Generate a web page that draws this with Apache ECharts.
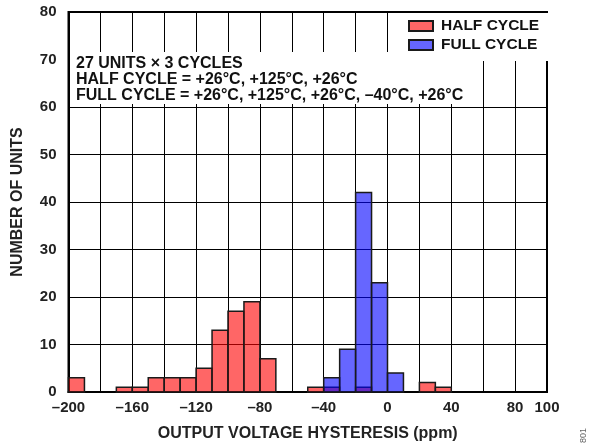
<!DOCTYPE html>
<html>
<head>
<meta charset="utf-8">
<script src="https://cdn.jsdelivr.net/npm/echarts@6/dist/echarts.min.js"></script>
<style>
html,body{margin:0;padding:0;background:#fff;}
#chart{width:596px;height:447px;}
</style>
</head>
<body>
<div id="chart"></div>
<script>
// Histogram bins (ppm): start and end of each bin
var binStart = [-200,-190,-180,-170,-160,-150,-140,-130,-120,-110,-100,-90,-80,-70,-60,-50,-40,-30,-20,-10,0,10,20,30,40,50,60,70,80,90];
var binEnd   = [-190,-180,-170,-160,-150,-140,-130,-120,-110,-100,-90,-80,-70,-60,-50,-40,-30,-20,-10,0,10,20,30,40,50,60,70,80,90,100];
var halfCycle = [3,0,0,1,1,3,3,3,5,13,17,19,7,0,0,1,1,0,1,0,0,0,2,1,0,0,0,0,0,0];
var fullCycle = [0,0,0,0,0,0,0,0,0,0,0,0,0,0,0,0,3,9,42,23,4,0,0,0,0,0,0,0,0,0];
var xTickLabels = [-200,-160,-120,-80,-40,0,40,80,100];
var noteLines = [
  '27 UNITS \u00d7 3 CYCLES',
  'HALF CYCLE = +26\u00b0C, +125\u00b0C, +26\u00b0C',
  'FULL CYCLE = +26\u00b0C, +125\u00b0C, +26\u00b0C, \u201340\u00b0C, +26\u00b0C'
];
var seriesNames = ['HALF CYCLE','FULL CYCLE'];

var FONT = 'Liberation Sans, Arial, sans-serif';
function toData(counts){
  var d = [];
  for (var i=0;i<counts.length;i++){ if (counts[i]>0) d.push([binStart[i], binEnd[i], counts[i]]); }
  return d;
}
function renderBar(params, api){
  var s = api.coord([api.value(0), api.value(2)]);
  var e = api.coord([api.value(1), 0]);
  return {
    type:'rect',
    shape:{x:s[0], y:s[1], width:e[0]-s[0], height:e[1]-s[1]},
    style:api.style()
  };
}
var chart = echarts.init(document.getElementById('chart'), null, {renderer:'canvas'});
chart.setOption({
  animation:false,
  backgroundColor:'#fff',
  textStyle:{fontFamily:FONT},
  title:{
    text: noteLines.join('\n'),
    left: 70, top: 52,
    backgroundColor:'#fff',
    padding:[4,13,0,6],
    textStyle:{fontSize:16, fontWeight:'bold', color:'#111', lineHeight:16, fontFamily:FONT}
  },
  legend:{
    data:seriesNames,
    orient:'vertical',
    left:398, top:13,
    backgroundColor:'#fff',
    padding:[5,20,8,10],
    itemWidth:24, itemHeight:10, itemGap:3,
    icon:'rect',
    textStyle:{fontSize:15.5, fontWeight:'bold', color:'#111', fontFamily:FONT, padding:[0,0,0,3]}
  },
  grid:{left:68.5, right:49, top:12, bottom:52, show:true, borderColor:'#000', borderWidth:2},
  xAxis:{
    type:'value', min:-200, max:100, interval:20,
    name:'OUTPUT VOLTAGE HYSTERESIS (ppm)', nameLocation:'middle', nameGap:34,
    nameTextStyle:{fontSize:16, fontWeight:'bold', color:'#222', fontFamily:FONT},
    axisLine:{show:true, onZero:false, lineStyle:{color:'#000', width:2}},
    axisTick:{show:false},
    splitLine:{show:true, lineStyle:{color:'#000', width:1}},
    axisLabel:{
      margin:8, fontSize:15, fontWeight:'bold', color:'#222', fontFamily:FONT,
      showMinLabel:true, showMaxLabel:true,
      formatter:function(v){ return xTickLabels.indexOf(v)>=0 ? (v<0 ? '\u2013'+Math.abs(v) : String(v)) : ''; }
    }
  },
  yAxis:{
    type:'value', min:0, max:80, interval:10,
    name:'NUMBER OF UNITS', nameLocation:'middle', nameGap:43, nameRotate:90,
    nameTextStyle:{fontSize:16, fontWeight:'bold', color:'#222', fontFamily:FONT},
    axisLine:{show:true, onZero:false, lineStyle:{color:'#000', width:2}},
    axisTick:{show:false},
    splitLine:{show:true, lineStyle:{color:'#000', width:1}},
    axisLabel:{margin:12, align:'right', padding:[4,0,0,0], fontSize:15, fontWeight:'bold', color:'#222', fontFamily:FONT}
  },
  series:[
    {
      name:seriesNames[0], type:'custom', renderItem:renderBar,
      encode:{x:[0,1], y:2},
      itemStyle:{color:'rgba(255,0,0,0.6)', borderColor:'#1a1a1a', borderWidth:1.5},
      data:toData(halfCycle), z:2
    },
    {
      name:seriesNames[1], type:'custom', renderItem:renderBar,
      encode:{x:[0,1], y:2},
      itemStyle:{color:'rgba(0,0,255,0.6)', borderColor:'#1a1a1a', borderWidth:1.5},
      data:toData(fullCycle), z:3
    }
  ],
  graphic:[{
    type:'text', x:579, y:443, rotation:Math.PI/2,
    style:{text:'801', fontSize:9, fill:'#666', fontFamily:FONT}
  }]
});
</script>
</body>
</html>
